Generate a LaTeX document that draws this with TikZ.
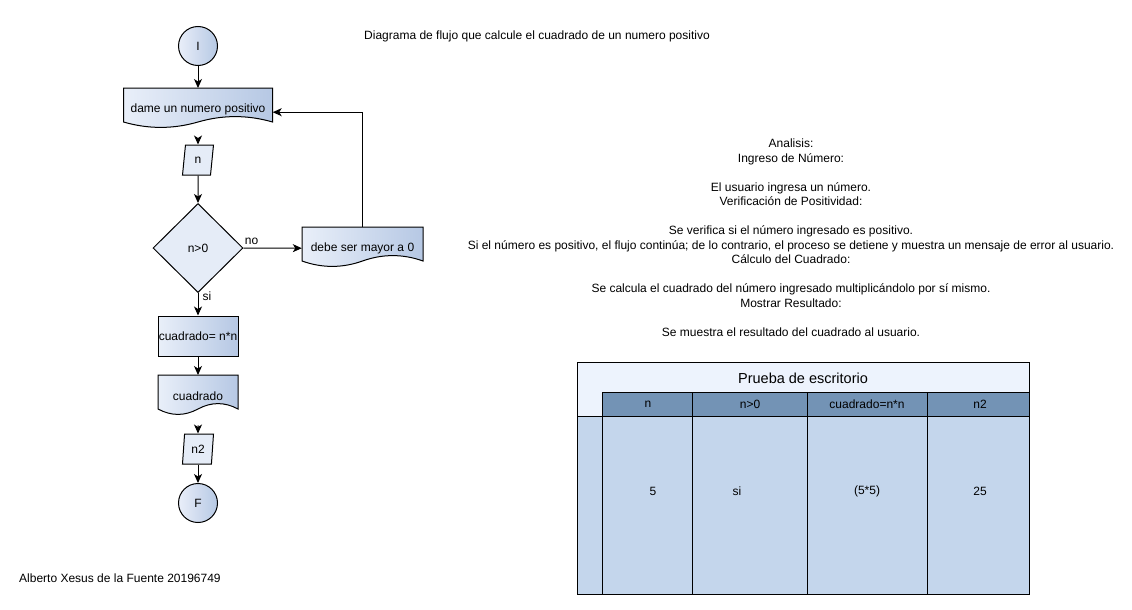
\documentclass[tikz,border=0pt]{standalone}
\usepackage{fontspec}
\setmainfont{Liberation Sans}
\usetikzlibrary{shapes.geometric,arrows.meta}

\definecolor{shapelight}{HTML}{E9EFF9}
\definecolor{shapedark}{HTML}{B6C8E4}
\definecolor{flatblue}{HTML}{E5ECF7}
\definecolor{bandlight}{HTML}{EDF3FD}
\definecolor{headblue}{HTML}{7393B5}
\definecolor{cellblue}{HTML}{C4D6EC}

\tikzset{
  >={Stealth[length=9pt,width=8pt,inset=2.5pt]},
  flow/.style={line width=1pt,->},
  grad/.style={left color=shapelight,right color=shapedark},
  terminal/.style={circle,draw,line width=1pt,grad,minimum size=39pt,inner sep=0pt},
  ioshape/.style={trapezium,trapezium left angle=83,trapezium right angle=97,
    trapezium stretches=true,draw,line width=1pt,fill=flatblue,
    minimum width=31pt,minimum height=30pt,inner sep=0pt},
  decision/.style={diamond,draw,line width=1pt,fill=flatblue,
    minimum width=90pt,minimum height=89pt,inner sep=0pt},
  process/.style={rectangle,draw,line width=1pt,grad,
    minimum width=80pt,minimum height=40pt,inner sep=0pt},
  docnode/.style={rectangle,minimum height=42pt,inner sep=0pt,anchor=north},
}

% document symbol: top left corner and width
\newcommand{\docpath}[3]{%
  \draw[grad,line width=1pt,shift={(#1,#2)}] (0,0) -- (#3,0) -- (#3,34)
    .. controls ({5*#3/6},26.8) and ({2*#3/3},26.8) .. ({#3/2},34)
    .. controls ({#3/3},41.2) and ({#3/6},41.2) .. (0,34) -- cycle;}

\begin{document}
\begin{tikzpicture}[x=1pt,y=-1pt,font=\fontsize{12}{14.5}\selectfont]
\useasboundingbox (0,0) rectangle (1132,610);

% flowchart
\node[terminal] (start) at (198,46) {I};
\docpath{123.5}{88}{149}
\node[docnode,minimum width=149pt] (ask) at (198,88) {dame un numero positivo};
\node[ioshape] (num) at (198,160) {n};
\node[decision] (check) at (198,248) {n>0};
\docpath{302}{227}{121}
\node[docnode,minimum width=121pt] (warn) at (362.5,227) {debe ser mayor a 0};
\node[process] (calc) at (198,336) {cuadrado= n*n};
\docpath{158}{375}{80}
\node[docnode,minimum width=80pt] (show) at (198,375) {cuadrado};
\node[ioshape] (res) at (198,449) {n2};
\node[terminal] (stop) at (198,503) {F};

\draw[flow] (start) -- (ask);
\draw[flow,shorten <=8pt] (ask) -- (num);
\draw[flow] (num) -- (check);
\draw[flow] (check.east) -- node[pos=0.14,anchor=south,inner sep=0pt,yshift=3pt] {no} (warn.west);
\draw[flow] (warn.north) |- ([yshift=-3pt]ask.east);
\draw[flow] (check.south) -- node[pos=0.15,anchor=west,inner sep=0pt,xshift=4pt] {si} (calc.north);
\draw[flow] (calc) -- (show);
\draw[flow,shorten <=8pt] (show) -- (res);
\draw[flow] (res) -- (stop);

% texts
\node (title) at (537,36) {Diagrama de flujo que calcule el cuadrado de un numero positivo};
\node[anchor=north,inner sep=0pt,align=center] (analysis) at (791,139) {Analisis:\\
Ingreso de Número:\\[14.5pt]
El usuario ingresa un número.\\
Verificación de Positividad:\\[14.5pt]
Se verifica si el número ingresado es positivo.\\
Si el número es positivo, el flujo continúa; de lo contrario, el proceso se detiene y muestra un mensaje de error al usuario.\\
Cálculo del Cuadrado:\\[14.5pt]
Se calcula el cuadrado del número ingresado multiplicándolo por sí mismo.\\
Mostrar Resultado:\\[14.5pt]
Se muestra el resultado del cuadrado al usuario.};
\node[anchor=west,inner sep=0pt] (author) at (19,578) {Alberto Xesus de la Fuente 20196749};

% desk check table
\fill[bandlight] (577,362) rectangle (1029,416);
\fill[headblue] (602,392) rectangle (1029,416);
\fill[cellblue] (577,416) rectangle (1029,594);
\draw[line width=1pt] (577,362) rectangle (1029,594);
\draw[line width=1pt] (602,392) -- (1029,392);
\draw[line width=1pt] (577,416) -- (1029,416);
\foreach \cx in {602,692,807,927}
  \draw[line width=1pt] (\cx,392) -- (\cx,594);

\node (tabtitle) at (803,378) {\fontsize{14.5}{17}\selectfont Prueba de escritorio};
\node (hn) at (648,404) {n};
\node (hpos) at (750,404) {n>0};
\node (hsq) at (867,404) {cuadrado=n*n};
\node (hres) at (980,404) {n2};
\node (vn) at (653,491) {5};
\node (vpos) at (737,491) {si};
\node (vsq) at (867,491) {(5*5)};
\node (vres) at (980,491) {25};
\end{tikzpicture}
\end{document}
